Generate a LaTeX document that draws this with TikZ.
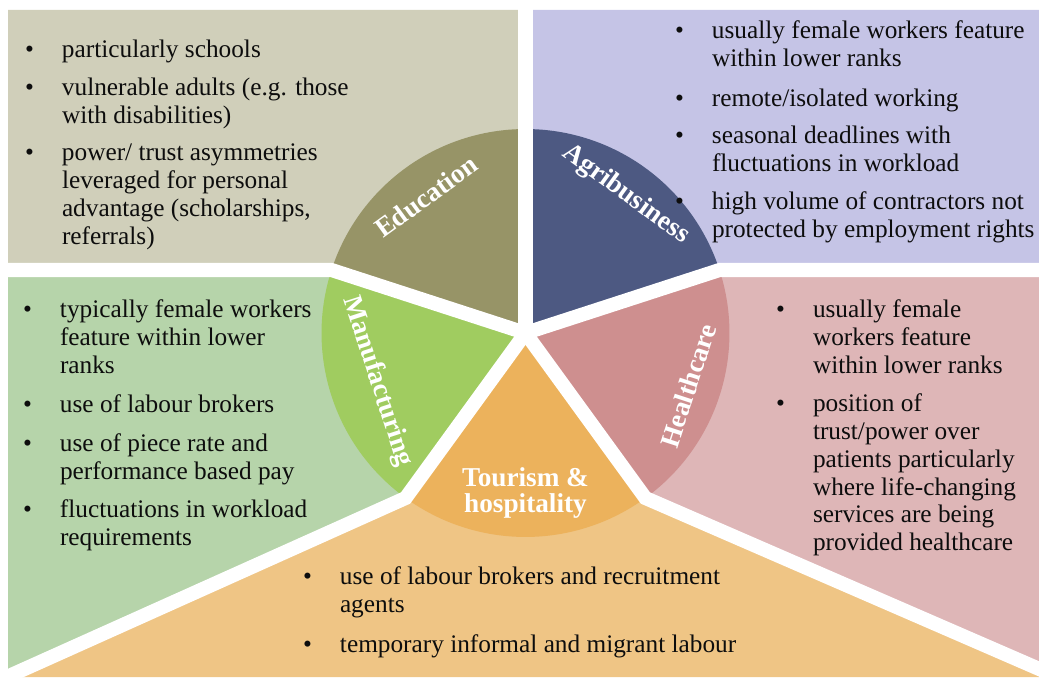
\documentclass[tikz,border=0pt]{standalone}
\usepackage{fontspec}
\setmainfont{Liberation Serif}
\usetikzlibrary{positioning}
\definecolor{eduback}{HTML}{D0CFBA}
\definecolor{edufill}{HTML}{979467}
\definecolor{agriback}{HTML}{C5C4E6}
\definecolor{agrifill}{HTML}{4D5982}
\definecolor{healthback}{HTML}{DEB6B7}
\definecolor{healthfill}{HTML}{CE8F8F}
\definecolor{tourback}{HTML}{EFC585}
\definecolor{tourfill}{HTML}{ECB25C}
\definecolor{manuback}{HTML}{B6D4AA}
\definecolor{manufill}{HTML}{A0CC60}
\newcommand{\bul}{\llap{\textbullet\hspace{16pt}}}
\tikzset{point/.style={inner sep=0pt, outer sep=0pt, anchor=north west, align=left, text=black!95, font=\fontsize{14.4pt}{15.9pt}\selectfont, execute at begin node=\strut, execute at end node=\strut}, sector/.style={inner sep=0pt, text=white, align=center, font=\fontsize{15.5pt}{15.3pt}\selectfont\bfseries}, gap/.style={white, line width=8pt, line join=miter}, x=0.02cm, y=0.02cm}

\begin{document}
\begin{tikzpicture}
    \useasboundingbox (0,0) rectangle (1039,677);
    % hub and the bends of the white gaps
    \coordinate (O) at (525.5,344);
    \coordinate (kEM) at (331.5,407);
    \coordinate (kAH) at (719.5,407);
    \coordinate (kHT) at (645.4,179);
    \coordinate (kTM) at (405.6,179);
    \coordinate (endN) at (525.5,700);
    \coordinate (endW) at (-20,407);
    \coordinate (endE) at (1060,407);
    \coordinate (endSE) at (1060,-1);
    \coordinate (endSW) at (-20,-12);
    % outer panels
    \fill[eduback] (8,667) -- (525.5,667) -- (O) -- (kEM) -- (8,407) -- cycle;
    \fill[agriback] (525.5,667) -- (1039,667) -- (1039,407) -- (kAH) -- (O) -- cycle;
    \fill[healthback] (O) -- (kAH) -- (1039,407) -- (1039,8) -- (kHT) -- cycle;
    \fill[tourback] (O) -- (kHT) -- (1039,8) -- (1039,0) -- (6,0) -- (kTM) -- cycle;
    \fill[manuback] (O) -- (kTM) -- (8,1) -- (8,407) -- (kEM) -- cycle;
    % the wheel
    \foreach \a/\c in {90/edufill,18/agrifill,-54/healthfill,-126/tourfill,162/manufill}
        \fill[\c] (O) -- ++(\a:4.08cm) arc[start angle=\a, delta angle=72, radius=4.08cm] -- cycle;
    \draw[gap] (O) -- (endN);
    \draw[gap] (O) -- (kEM) -- (endW);
    \draw[gap] (O) -- (kAH) -- (endE);
    \draw[gap] (O) -- (kHT) -- (endSE);
    \draw[gap] (O) -- (kTM) -- (endSW);
    % sector names
    \node[sector, rotate=36] (eduL) at ([shift={(126:3.38cm)}]O) {Education};
    \node[sector, rotate=-36] (agriL) at ([shift={(54:3.42cm)}]O) {Agribusiness};
    \node[sector, rotate=72] (healthL) at ([shift={(-18:3.42cm)}]O) {Healthcare};
    \node[sector, rotate=-72] (manuL) at ([shift={(198:3.12cm)}]O) {Manufacturing};
    \node[sector] (tourL) at ([shift={(-90:3.2cm)}]O) {Tourism \&\\hospitality};
    % education
    \node[point] (edu1) at (62,638.6) {\bul particularly schools};
    \node[point, below right=6.8pt and 0pt of edu1.south west] (edu2) {\bul vulnerable adults (e.g. those\\with disabilities)};
    \node[point, below right=6.8pt and 0pt of edu2.south west] (edu3) {\bul power/ trust asymmetries\\leveraged for personal\\advantage (scholarships,\\referrals)};
    % agribusiness
    \node[point] (agri1) at (712,656.6) {\bul usually female workers feature\\within lower ranks};
    \node[point, below right=6.8pt and 0pt of agri1.south west] (agri2) {\bul remote/isolated working};
    \node[point, below right=6.8pt and 0pt of agri2.south west] (agri3) {\bul seasonal deadlines with\\fluctuations in workload};
    \node[point, below right=6.8pt and 0pt of agri3.south west] (agri4) {\bul high volume of contractors not\\protected by employment rights};
    % healthcare
    \node[point] (health1) at (813,377.6) {\bul usually female\\workers feature\\within lower ranks};
    \node[point, below right=6.8pt and 0pt of health1.south west] (health2) {\bul position of\\trust/power over\\patients particularly\\where life-changing\\services are being\\provided healthcare};
    % manufacturing
    \node[point] (manu1) at (60,377.6) {\bul typically female workers\\feature within lower\\ranks};
    \node[point, below right=6.8pt and 0pt of manu1.south west] (manu2) {\bul use of labour brokers};
    \node[point, below right=6.8pt and 0pt of manu2.south west] (manu3) {\bul use of piece rate and\\performance based pay};
    \node[point, below right=6.8pt and 0pt of manu3.south west] (manu4) {\bul fluctuations in workload\\requirements};
    % tourism
    \node[point] (tour1) at (340,110.6) {\bul use of labour brokers and recruitment\\agents};
    \node[point, below right=6.8pt and 0pt of tour1.south west] (tour2) {\bul temporary informal and migrant labour};
\end{tikzpicture}
\end{document}
